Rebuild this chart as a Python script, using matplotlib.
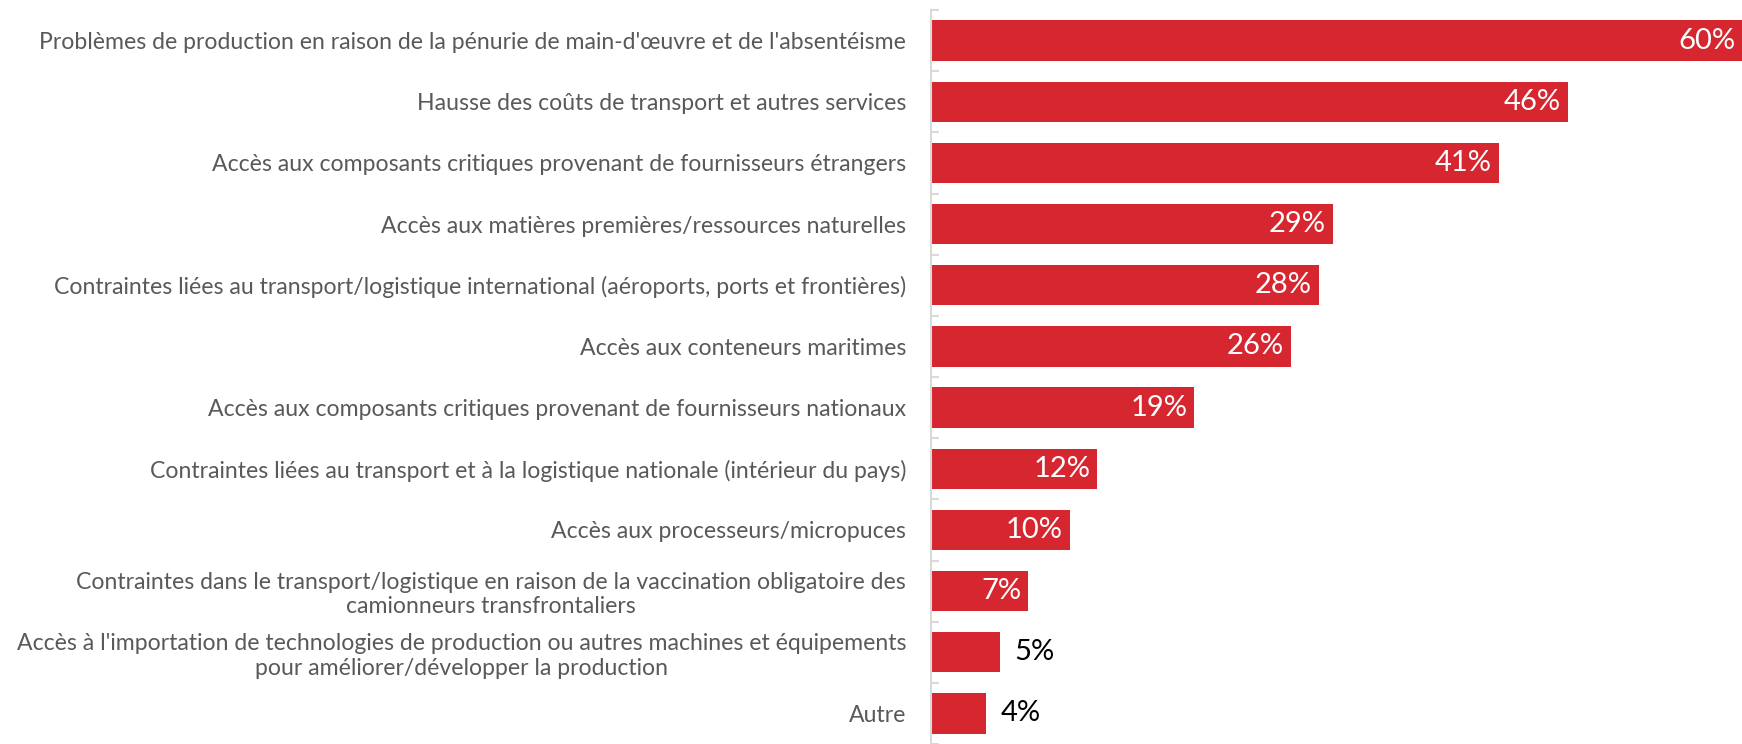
import matplotlib
matplotlib.use("Agg")
import matplotlib.pyplot as plt
import numpy as np

# categories, top to bottom
categories = [
    "Problèmes de production en raison de la pénurie de main-d'œuvre et de l'absentéisme",
    "Hausse des coûts de transport et autres services",
    "Accès aux composants critiques provenant de fournisseurs étrangers",
    "Accès aux matières premières/ressources naturelles",
    "Contraintes liées au transport/logistique international (aéroports, ports et frontières)",
    "Accès aux conteneurs maritimes",
    "Accès aux composants critiques provenant de fournisseurs nationaux",
    "Contraintes liées au transport et à la logistique nationale (intérieur du pays)",
    "Accès aux processeurs/micropuces",
    "Contraintes dans le transport/logistique en raison de la vaccination obligatoire des\ncamionneurs transfrontaliers",
    "Accès à l'importation de technologies de production ou autres machines et équipements\npour améliorer/développer la production",
    "Autre",
]
values = [60, 46, 41, 29, 28, 26, 19, 12, 10, 7, 5, 4]

W, H = 1742, 744
bar_col = '#d62630'
axis_col = '#d9d9d9'
label_col = '#595959'

fig = plt.figure(figsize=(W / 100, H / 100), dpi=100)
x0 = 931           # pixel of the value axis
top = 10           # pixel of top of first category
step = 62.1        # pixels per category
ax = fig.add_axes([x0 / W, 0, (W - x0) / W, (H - top) / H])

xmax = (W - x0) / 13.85
n = len(categories)
y = np.arange(n)
ax.barh(y, values, height=0.66, color=bar_col, zorder=2)
ax.set_xlim(0, xmax)
ax.set_ylim(-0.5 + (H - top) / step, -0.5)

for s in ['top', 'right', 'bottom']:
    ax.spines[s].set_visible(False)
ax.spines['left'].set_color(axis_col)
ax.spines['left'].set_linewidth(1.5)
ax.set_xticks([])
ax.set_yticks(y)
ax.set_yticklabels(categories, fontsize=16.6, color=label_col,
                   family='Lato', linespacing=1.2, ha='right',
                   multialignment='center')
ax.tick_params(axis='y', which='major', length=0, pad=18)
ax.set_yticks(np.arange(n + 1) - 0.5, minor=True)
ax.tick_params(axis='y', which='minor', direction='in', length=6,
               width=1.5, color=axis_col)

for yi, v in zip(y, values):
    if v >= 7:
        ax.annotate(f"{v}%", (min(v, xmax), yi), xytext=(-5, 0),
                    textcoords='offset points', ha='right', va='center',
                    color='white', fontsize=21, family='Lato')
    else:
        ax.annotate(f"{v}%", (v, yi), xytext=(10, 0),
                    textcoords='offset points', ha='left', va='center',
                    color='black', fontsize=21, family='Lato')

fig.savefig('out.png', dpi=100)
